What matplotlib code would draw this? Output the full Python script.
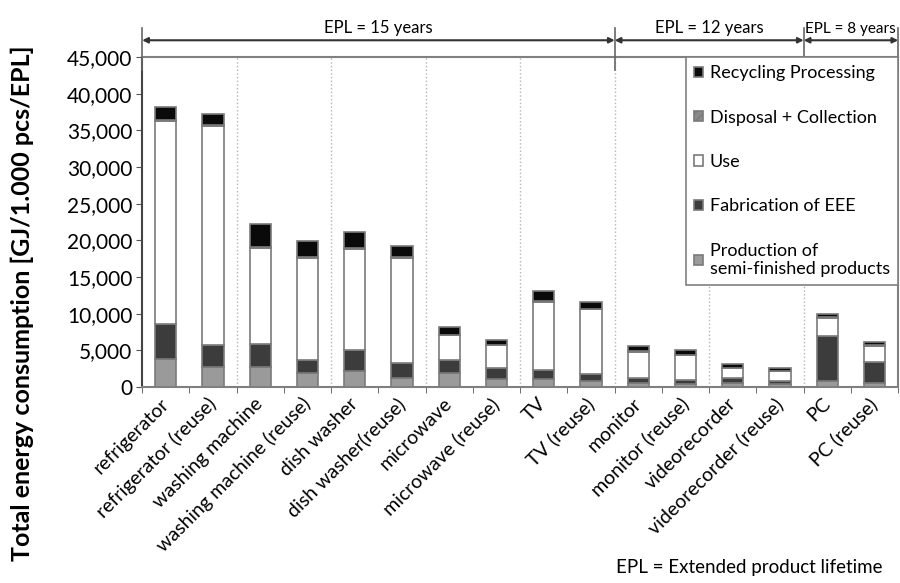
import matplotlib
matplotlib.use("Agg")
import matplotlib.pyplot as plt
from matplotlib.transforms import ScaledTranslation
import numpy as np

plt.rcParams['font.family'] = ['Lato', 'DejaVu Sans']

products = ['refrigerator', 'refrigerator (reuse)', 'washing machine',
            'washing machine (reuse)', 'dish washer', 'dish washer(reuse)',
            'microwave', 'microwave (reuse)', 'TV', 'TV (reuse)', 'monitor',
            'monitor (reuse)', 'videorecorder', 'videorecorder (reuse)',
            'PC', 'PC (reuse)']

# GJ / 1.000 pcs / EPL
production = [3850, 2770, 2770, 1950, 2180, 1270, 1950, 1040, 1040, 820, 590, 360, 590, 360, 820, 590]
fabrication = [4810, 3030, 3120, 1810, 2940, 2030, 1810, 1590, 1360, 900, 590, 590, 590, 460, 6120, 2810]
use = [27600, 29850, 13040, 13890, 13680, 14350, 3350, 3120, 9250, 8880, 3670, 3440, 1400, 1310, 2530, 2260]
disposal = [150, 150, 150, 150, 150, 150, 50, 50, 50, 50, 50, 50, 50, 50, 50, 50]
recycling = [1800, 1400, 3120, 2150, 2150, 1470, 1040, 680, 1350, 910, 680, 680, 540, 450, 500, 460]

epl_groups = [('EPL = 15 years', -0.5, 9.5), ('EPL = 12 years', 9.5, 13.5),
              ('EPL = 8 years', 13.5, 15.5)]

fig = plt.figure(figsize=(9, 5.83), dpi=100)
ax = fig.add_axes([0.158, 0.336, 0.84, 0.566])

x = np.arange(len(products))
w = 0.45
edge = '#7a7a7a'
bottom = np.zeros(len(products))
layers = [
    (production, '#9a9a9a', None, 'Production of\nsemi-finished products'),
    (fabrication, '#3c3c3c', None, 'Fabrication of EEE'),
    (use, 'white', None, 'Use'),
    (disposal, '#8a8a8a', '////', 'Disposal + Collection'),
    (recycling, '#0a0a0a', None, 'Recycling Processing'),
]
handles = []
for vals, col, hatch, lab in layers:
    b = ax.bar(x, vals, w, bottom=bottom, color=col, edgecolor=edge,
               linewidth=1.2, hatch=hatch, label=lab, zorder=3)
    handles.append(b)
    bottom += np.array(vals)

# dotted separators between product pairs
for s in np.arange(1.5, 15, 2):
    ax.axvline(s, color='#b5b5b5', linestyle=':', linewidth=1, zorder=1)

ax.set_xlim(-0.5, 15.5)
ax.set_ylim(0, 45000)
ax.set_yticks(np.arange(0, 45001, 5000))
ax.set_yticklabels(['{:,}'.format(v) for v in range(0, 45001, 5000)], fontsize=15)
ax.set_xticks(x)
ax.set_xticklabels(products, rotation=45, ha='right', va='center',
                   rotation_mode='anchor', fontsize=14)
shift = ScaledTranslation(0.23, 0, fig.dpi_scale_trans)
for lab in ax.get_xticklabels():
    lab.set_transform(lab.get_transform() + shift)
ax.set_xticks(np.arange(-0.5, 15.6, 1), minor=True)
ax.tick_params(axis='x', which='major', length=0, pad=10)
ax.tick_params(axis='x', which='minor', length=4, color='#555555')
ax.tick_params(axis='y', length=4, color='#555555', pad=3)
for sp in ax.spines.values():
    sp.set_color('#808080')
    sp.set_linewidth(1.5)
ax.spines['left'].set_color('#444444')

# EPL brackets above the plot
y_arrow = 47300
for txt, x0, x1 in epl_groups:
    ax.annotate('', xy=(x0, y_arrow), xytext=(x1, y_arrow),
                arrowprops=dict(arrowstyle='<|-|>', color='#333333', lw=1.5,
                                mutation_scale=8, shrinkA=0, shrinkB=0),
                annotation_clip=False)
    if x1 == 15.5:
        ax.text(x0 + 0.02, y_arrow + 600, txt, ha='left', va='bottom',
                fontsize=11, clip_on=False)
    else:
        ax.text((x0 + x1) / 2, y_arrow + 600, txt, ha='center', va='bottom',
                fontsize=12, clip_on=False)
for xb in [-0.5, 9.5, 13.5, 15.5]:
    ax.plot([xb, xb], [43200, 49000], color='#666666', lw=1.2, clip_on=False, zorder=4)

leg = ax.legend(handles[::-1], [h.get_label() for h in handles[::-1]],
                loc='upper right', bbox_to_anchor=(1.0, 1.0), fontsize=13,
                labelspacing=1.57, handlelength=0.5, handleheight=0.5,
                handletextpad=0.4, borderpad=0.45, borderaxespad=0,
                fancybox=False, framealpha=1, edgecolor='#808080')
leg.get_frame().set_linewidth(1.2)

fig.text(0.025, 0.48, 'Total energy consumption [GJ/1.000 pcs/EPL]',
         rotation=90, ha='center', va='center', fontsize=18, fontweight='bold')
fig.text(0.685, 0.012, 'EPL = Extended product lifetime', fontsize=13.5,
         ha='left', va='bottom')

fig.savefig('out.png', dpi=100)
